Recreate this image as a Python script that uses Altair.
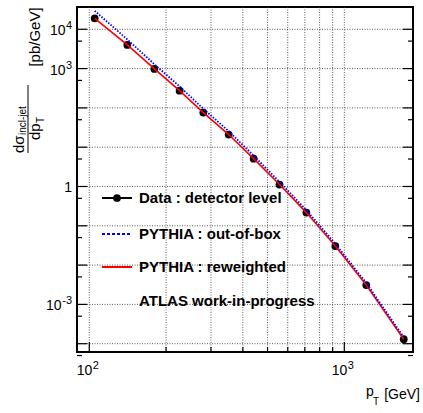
import altair as alt
import pandas as pd

# ---- data ----
pt = [105, 141, 180, 226, 280, 352, 441, 557, 710, 922, 1219, 1710]
data_det = [1.9e4, 4.0e3, 980, 274, 76, 21, 5.1, 1.12, 0.217, 0.0306, 0.0031, 1.3e-4]
pythia_rew = [1.9e4, 4.0e3, 980, 274, 76, 21, 5.1, 1.12, 0.217, 0.0306, 0.0031, 1.3e-4]
pythia_oob = [2.95e4, 5.5e3, 1290, 351, 95, 25.6, 6.1, 1.31, 0.25, 0.0349, 0.0035, 1.46e-4]

y_grid = [1e-4, 1e-3, 1e-2, 1e-1, 1, 1e1, 1e2, 1e3, 1e4]
y_minor = [5e-5, 5e-4, 5e-3, 5e-2, 5e-1, 5, 50, 500, 5e3]
x_grid = [100, 200, 300, 400, 500, 600, 700, 800, 900, 1000]
x_major = [100, 1000]
x_minor = [200, 300, 400, 500, 600, 700, 800, 900]

ylab_vals = [1e4, 1e3, 1, 1e-3]
ylab_base = ["10", "10", "1", "10"]
ylab_exp = ["4", "3", "", "-3"]
xlab_vals = [100, 1000]
xlab_exp = ["2", "3"]

legend_labels = ["Data : detector level", "PYTHIA : out-of-box",
                 "PYTHIA : reweighted", "ATLAS work-in-progress"]

W, H = 336, 345
FONT = "Liberation Sans, Arial, sans-serif"

xs = alt.Scale(type="log", domain=[89.5, 1859], nice=False)
ys = alt.Scale(type="log", domain=[6.15e-5, 3.69e4], nice=False)

def X(field="x"):
    return alt.X(f"{field}:Q", scale=xs, axis=None)

def Y(field="y"):
    return alt.Y(f"{field}:Q", scale=ys, axis=None)

df = pd.DataFrame({"x": pt, "data": data_det, "rew": pythia_rew, "oob": pythia_oob})
ygrid_df = pd.DataFrame({"y": y_grid})
yminor_df = pd.DataFrame({"y": y_minor})
xgrid_df = pd.DataFrame({"x": x_grid})
xmajor_df = pd.DataFrame({"x": x_major})
xminor_df = pd.DataFrame({"x": x_minor})
ylab_df = pd.DataFrame({"y": ylab_vals, "base": ylab_base, "exp": ylab_exp})
xlab_df = pd.DataFrame({"x": xlab_vals, "exp": xlab_exp})
one = pd.DataFrame({"a": [0]})

layers = []

# grid
grid_style = dict(color="#333333", strokeWidth=0.8, strokeDash=[1, 1.5])
layers.append(alt.Chart(ygrid_df).mark_rule(**grid_style).encode(y=Y()))
layers.append(alt.Chart(xgrid_df).mark_rule(**grid_style).encode(x=X()))

# inward ticks (left/right on y, bottom on x)
tk = dict(color="black", strokeWidth=1.2)
layers.append(alt.Chart(ygrid_df).mark_rule(**tk).encode(y=Y(), x=alt.value(0), x2=alt.value(10)))
layers.append(alt.Chart(ygrid_df).mark_rule(**tk).encode(y=Y(), x=alt.value(W), x2=alt.value(W - 10)))
layers.append(alt.Chart(yminor_df).mark_rule(**tk).encode(y=Y(), x=alt.value(0), x2=alt.value(5)))
layers.append(alt.Chart(yminor_df).mark_rule(**tk).encode(y=Y(), x=alt.value(W), x2=alt.value(W - 5)))
layers.append(alt.Chart(xmajor_df).mark_rule(**tk).encode(x=X(), y=alt.value(H), y2=alt.value(H - 10)))
layers.append(alt.Chart(xminor_df).mark_rule(**tk).encode(x=X(), y=alt.value(H), y2=alt.value(H - 5)))

# data
layers.append(alt.Chart(df).mark_point(filled=True, color="black", size=60, opacity=1).encode(x=X(), y=Y("data")))
layers.append(alt.Chart(df).mark_line(color="#ff0000", strokeWidth=1.6).encode(x=X(), y=Y("rew")))
layers.append(alt.Chart(df).mark_line(color="#0000ff", strokeWidth=1.8, strokeDash=[1.5, 1.5]).encode(x=X(), y=Y("oob")))

# y tick labels
lab = dict(font=FONT, fontSize=14, color="black", baseline="alphabetic")
labexp = dict(font=FONT, fontSize=11, color="black", baseline="alphabetic")
layers.append(alt.Chart(ylab_df).transform_filter("datum.exp != ''").mark_text(align="right", dy=0, **labexp)
              .encode(y=Y(), x=alt.value(-5), text="exp:N"))
layers.append(alt.Chart(ylab_df).transform_filter("length(datum.exp) == 1").mark_text(align="right", dy=6, **lab)
              .encode(y=Y(), x=alt.value(-11.5), text="base:N"))
layers.append(alt.Chart(ylab_df).transform_filter("length(datum.exp) == 2").mark_text(align="right", dy=6, **lab)
              .encode(y=Y(), x=alt.value(-15.5), text="base:N"))
layers.append(alt.Chart(ylab_df).transform_filter("datum.exp == ''").mark_text(align="right", dy=6, **lab)
              .encode(y=Y(), x=alt.value(-5), text="base:N"))

# x tick labels
layers.append(alt.Chart(xlab_df).mark_text(align="right", dx=3, **lab)
              .encode(x=X(), y=alt.value(H + 23), text=alt.value("10")))
layers.append(alt.Chart(xlab_df).mark_text(align="left", dx=3.5, **labexp)
              .encode(x=X(), y=alt.value(H + 17), text="exp:N"))

# x title
layers.append(alt.Chart(one).mark_text(align="right", **lab).encode(
    x=alt.value(W + 7), y=alt.value(H + 47), text=alt.value("[GeV]")))
layers.append(alt.Chart(one).mark_text(align="left", **lab).encode(
    x=alt.value(W - 47), y=alt.value(H + 44), text=alt.value("p")))
layers.append(alt.Chart(one).mark_text(align="left", font=FONT, fontSize=10, baseline="alphabetic").encode(
    x=alt.value(W - 40), y=alt.value(H + 53), text=alt.value("T")))

# y title (rotated)
rot = dict(font=FONT, color="black", angle=270, baseline="alphabetic")
layers.append(alt.Chart(one).mark_text(align="center", fontSize=15, **rot).encode(
    x=alt.value(-37), y=alt.value(30), text=alt.value("[pb/GeV]")))
layers.append(alt.Chart(one).mark_text(align="left", fontSize=15, **rot).encode(
    x=alt.value(-53), y=alt.value(146), text=alt.value("dσ")))
layers.append(alt.Chart(one).mark_text(align="left", fontSize=10, **rot).encode(
    x=alt.value(-51), y=alt.value(128), text=alt.value("incl-jet")))
layers.append(alt.Chart(one).mark_rule(color="black", strokeWidth=1).encode(
    x=alt.value(-49), y=alt.value(78), y2=alt.value(146)))
layers.append(alt.Chart(one).mark_text(align="left", fontSize=15, **rot).encode(
    x=alt.value(-37), y=alt.value(133), text=alt.value("dp")))
layers.append(alt.Chart(one).mark_text(align="left", fontSize=10, **rot).encode(
    x=alt.value(-33), y=alt.value(116), text=alt.value("T")))

# legend
leg_y = [191, 227, 260, 294]
bold = dict(font=FONT, fontSize=15, fontWeight="bold", color="black", align="left", baseline="middle")
layers.append(alt.Chart(one).mark_rule(color="black", strokeWidth=2).encode(
    x=alt.value(25), x2=alt.value(55), y=alt.value(leg_y[0])))
layers.append(alt.Chart(one).mark_point(filled=True, color="black", size=60, opacity=1).encode(
    x=alt.value(40), y=alt.value(leg_y[0])))
layers.append(alt.Chart(one).mark_rule(color="#0000ff", strokeWidth=2, strokeDash=[3, 2]).encode(
    x=alt.value(25), x2=alt.value(55), y=alt.value(leg_y[1])))
layers.append(alt.Chart(one).mark_rule(color="#ff0000", strokeWidth=2).encode(
    x=alt.value(25), x2=alt.value(55), y=alt.value(leg_y[2])))
for i, t in enumerate(legend_labels):
    layers.append(alt.Chart(one).mark_text(**bold).encode(
        x=alt.value(62), y=alt.value(leg_y[i]), text=alt.value(t)))

chart = alt.layer(*layers).properties(
    width=W, height=H,
    autosize=alt.AutoSizeParams(type="none"),
    padding={"left": 77, "top": 7, "right": 10, "bottom": 61},
    background="white",
).configure_view(stroke="black", strokeWidth=2)

chart.save("out.html", embed_options={"renderer": "svg", "actions": False})
